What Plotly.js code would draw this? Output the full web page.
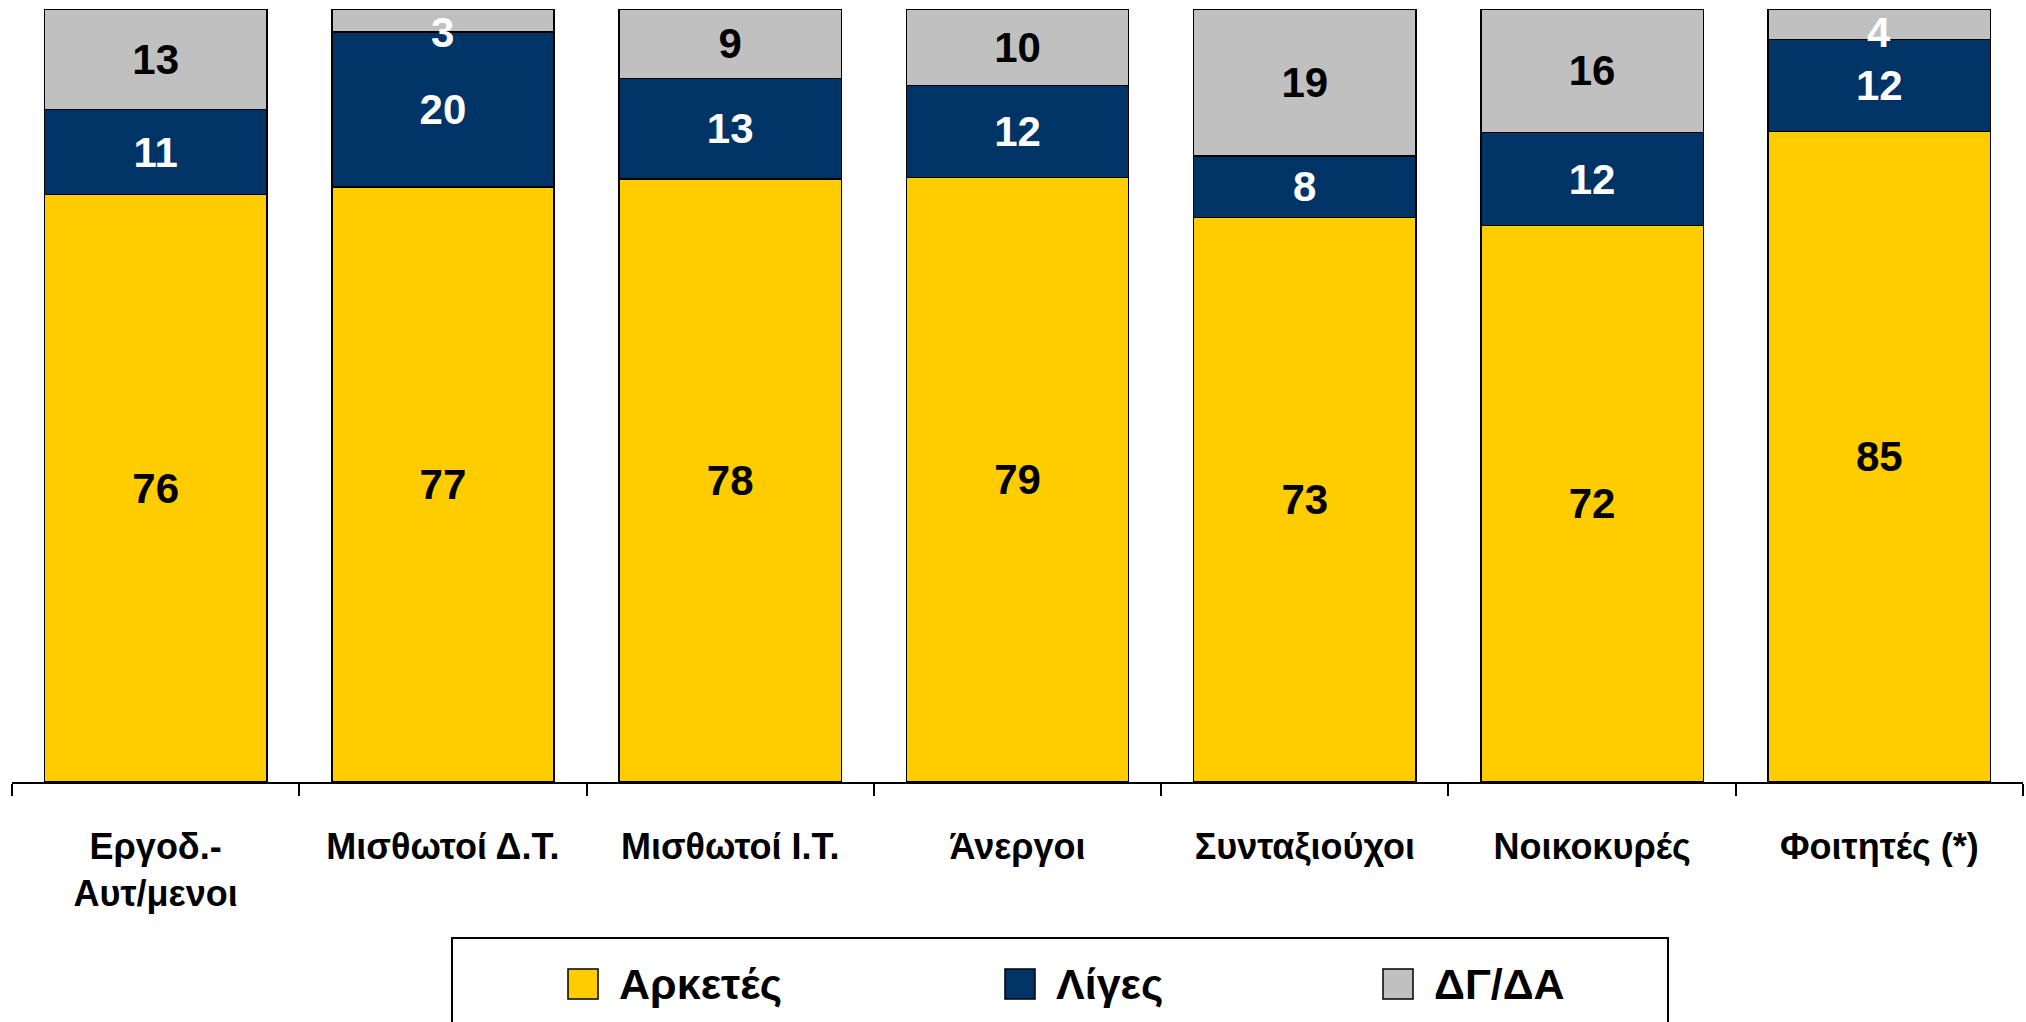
<!DOCTYPE html>
<html>
<head>
<meta charset="utf-8">
<script src="https://cdn.plot.ly/plotly-3.0.1.min.js"></script>
<style>
  html, body { margin: 0; padding: 0; background: #ffffff; }
  #chart { width: 2026px; height: 1022px; }
</style>
</head>
<body>
<div id="chart"></div>
<script>
// ---- Data ----
const categories = ["Εργοδ.-<br>Αυτ/μενοι", "Μισθωτοί Δ.Τ.", "Μισθωτοί Ι.Τ.", "Άνεργοι", "Συνταξιούχοι", "Νοικοκυρές", "Φοιτητές (*)"];
const seriesNames = ["Αρκετές", "Λίγες", "ΔΓ/ΔΑ"];
const arketes = [76, 77, 78, 79, 73, 72, 85];
const liges = [11, 20, 13, 12, 8, 12, 12];
const dgda = [13, 3, 9, 10, 19, 16, 4];

// ---- Style ----
const colors = ["#FFCC00", "#003366", "#C0C0C0"];
const FONT = "'Liberation Sans', Arial, sans-serif";
const LABEL_SIZE = 42;
const SMALL = 5; // segments below this value get their label pushed below the bar top
const values = [arketes, liges, dgda];
const labelColors = [
  arketes.map(() => "#000000"),
  liges.map(() => "#ffffff"),
  dgda.map(v => v < SMALL ? "#ffffff" : "#000000")
];
const labelTexts = [
  arketes.map(String),
  liges.map(String),
  dgda.map(v => v < SMALL ? "" : String(v))
];

const traces = values.map((vals, i) => ({
  type: "bar",
  name: seriesNames[i],
  x: categories,
  y: vals,
  text: labelTexts[i],
  texttemplate: "%{text}",
  textposition: "inside",
  insidetextanchor: "middle",
  textangle: 0,
  cliponaxis: false,
  textfont: { family: FONT, size: LABEL_SIZE, color: labelColors[i], weight: "bold" },
  marker: { color: colors[i], line: { color: "#000000", width: 1.5 } },
  hoverinfo: "skip",
  showlegend: false
}));

// ---- Geometry (pixels) ----
const W = 2026, H = 1022;
const M = { l: 12, r: 3, t: 9, b: 240 };
const PW = W - M.l - M.r, PH = H - M.t - M.b;
const px2x = p => (p - M.l) / PW;
const py2y = p => (H - M.b - p) / PH;

const annotations = [];
// labels of the thin top segments, sitting just under the bar top (as in the original)
dgda.forEach((v, i) => {
  if (v < SMALL) {
    const total = arketes[i] + liges[i] + dgda[i];
    annotations.push({
      x: categories[i], y: total / total * 100, xref: "x", yref: "y",
      xanchor: "center", yanchor: "top", showarrow: false, yshift: 2,
      text: "<b>" + v + "</b>",
      font: { family: FONT, size: LABEL_SIZE, color: "#ffffff" }
    });
  }
});

// Custom legend (large swatches like the original)
const legendBox = { x0: 452, x1: 1668, y0: 938, y1: 1040 };
const swatchX = [568, 1005, 1383];
const swatchSize = 30;
const swatchTop = 969;
const textGap = 19;

const shapes = [{
  type: "rect", xref: "paper", yref: "paper",
  x0: px2x(legendBox.x0), x1: px2x(legendBox.x1),
  y0: py2y(legendBox.y1), y1: py2y(legendBox.y0),
  line: { color: "#000000", width: 2 }, fillcolor: "rgba(0,0,0,0)", layer: "above"
}];
seriesNames.forEach((n, i) => {
  shapes.push({
    type: "rect", xref: "paper", yref: "paper",
    x0: px2x(swatchX[i]), x1: px2x(swatchX[i] + swatchSize),
    y0: py2y(swatchTop + swatchSize), y1: py2y(swatchTop),
    line: { color: "#000000", width: 1.5 }, fillcolor: colors[i]
  });
  annotations.push({
    xref: "paper", yref: "paper",
    x: px2x(swatchX[i] + swatchSize + textGap), y: py2y(swatchTop + swatchSize / 2),
    xanchor: "left", yanchor: "middle", showarrow: false,
    text: "<b>" + n + "</b>",
    font: { family: FONT, size: 43, color: "#000000" }
  });
});

const layout = {
  width: W, height: H,
  margin: M,
  paper_bgcolor: "#ffffff", plot_bgcolor: "#ffffff",
  barmode: "stack",
  barnorm: "percent",
  bargap: 0.226,
  showlegend: false,
  uniformtext: { mode: "show", minsize: LABEL_SIZE },
  xaxis: {
    type: "category",
    tickson: "boundaries",
    ticks: "outside", ticklen: 12, tickwidth: 2, tickcolor: "#000000",
    showline: true, linecolor: "#000000", linewidth: 2,
    showgrid: false, zeroline: false,
    tickangle: 0,
    ticklabelstandoff: 32,
    tickfont: { family: FONT, size: 36, color: "#000000", weight: "bold" },
    automargin: false
  },
  yaxis: {
    range: [0, 100], visible: false, showgrid: false, zeroline: false, fixedrange: true
  },
  shapes: shapes,
  annotations: annotations
};

Plotly.newPlot("chart", traces, layout, { staticPlot: true, displayModeBar: false });
</script>
</body>
</html>
